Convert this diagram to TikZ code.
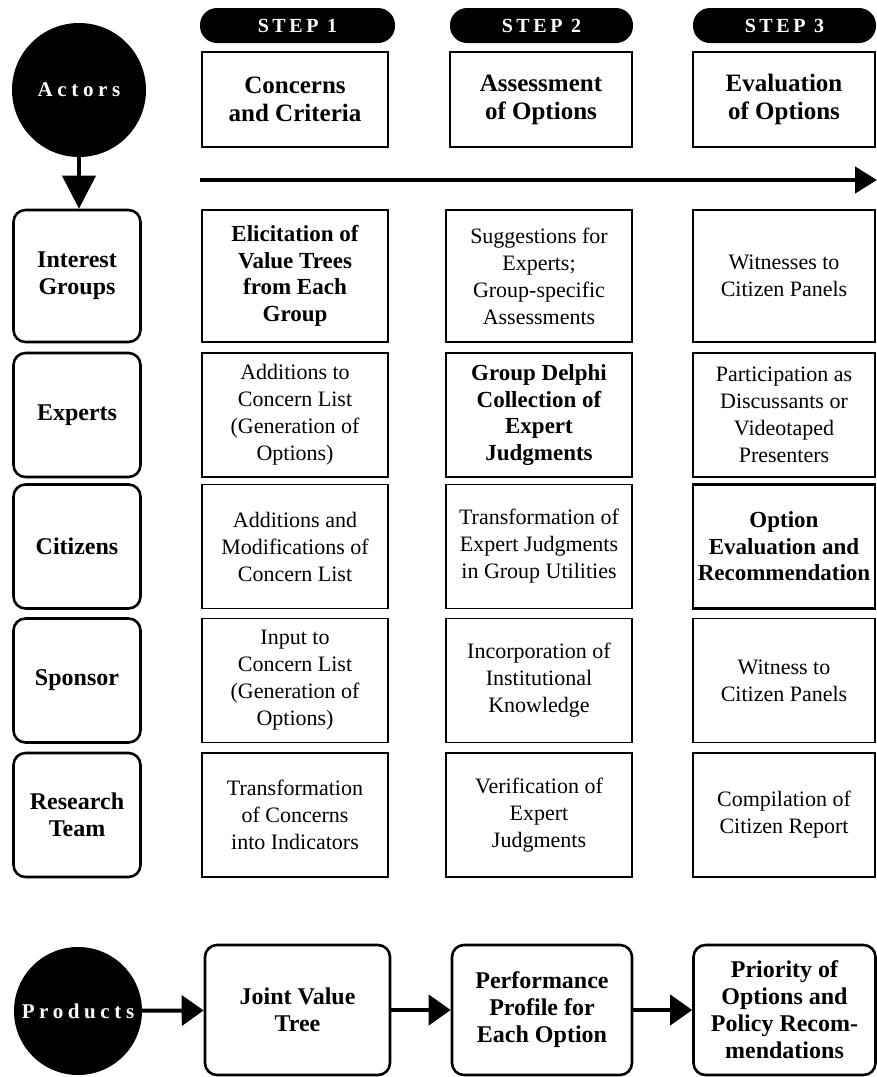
\documentclass[tikz,border=0pt]{standalone}
\usepackage{fontspec}
\setmainfont{Liberation Serif}
\newfontfamily\spacedfont[LetterSpace=22]{Liberation Serif}
\newfontfamily\stepfont[LetterSpace=18]{Liberation Serif}
\usetikzlibrary{arrows.meta}

\begin{document}
\begin{tikzpicture}[x=1pt, y=-1pt,
    cell/.style={draw, line width=1.3pt, align=center, inner sep=0pt,
        minimum width=186pt, minimum height=124pt,
        font=\fontsize{22}{27}\selectfont},
    keycell/.style={cell, line width=2.6pt,
        font=\fontsize{23}{26.5}\selectfont\bfseries},
    head/.style={cell, line width=2pt, minimum height=95pt,
        font=\fontsize{25}{28}\selectfont\bfseries},
    pill/.style={fill=black, text=white, rounded corners=17pt,
        minimum height=35pt, inner sep=0pt,
        font=\fontsize{20}{22}\selectfont\stepfont\bfseries},
    actor/.style={draw, line width=2.6pt, rounded corners=12pt, align=center,
        minimum width=127pt, minimum height=124pt, inner sep=0pt,
        font=\fontsize{24}{27}\selectfont\bfseries},
    product/.style={actor, minimum height=130pt},
    bigdot/.style={circle, fill=black, text=white, minimum size=134pt,
        inner sep=0pt, font=\fontsize{21}{22}\selectfont\spacedfont\bfseries},
    bigarrow/.style={line width=4pt, -{Triangle[length=22pt,width=30pt]}}]

    % page size
    \useasboundingbox (0,0) rectangle (877,1077);

    % the three step labels
    \node[pill, minimum width=195pt] (step1) at (297.5,25.5) {STEP 1};
    \node[pill, minimum width=183pt] (step2) at (541.5,25.5) {STEP 2};
    \node[pill, minimum width=183pt] (step3) at (784.5,25.5) {STEP 3};

    % the headers below the steps
    \node[head] (head1) at (295,99.5) {Concerns\\and Criteria};
    \node[head, minimum width=182pt] (head2) at (541,99.5) {Assessment\\of Options};
    \node[head, minimum width=182pt] (head3) at (784,99.5) {Evaluation\\of Options};

    % the time line under the headers
    \coordinate (tstart) at (200,180);
    \coordinate (tend) at (877,180);
    \draw[line width=4.5pt, -{Triangle[length=22pt,width=26pt]}] (tstart) -- (tend);

    % Actors and the actor column
    \node[bigdot] (actors) at (79,90) {Actors};
    \node[actor, minimum height=132pt] (igroups) at (77,276) {Interest\\Groups};
    \node[actor] (experts) at (77,415) {Experts};
    \node[actor] (citizens) at (77,546.5) {Citizens};
    \node[actor] (sponsor) at (77,680.5) {Sponsor};
    \node[actor] (rteam) at (77,815) {Research\\Team};
    \draw[line width=4pt, -{Triangle[length=33pt,width=33pt]}]
        (actors.south) -- (actors.south |- igroups.north);

    % column of step 1
    \node[keycell, minimum height=132pt] (ig1) at (295,276)
        {Elicitation of\\Value Trees\\from Each\\Group};
    \node[cell] (ex1) at (295,415)
        {Additions to\\Concern List\\(Generation of\\Options)};
    \node[cell] (ci1) at (295,546.5)
        {Additions and\\Modifications of\\Concern List};
    \node[cell] (sp1) at (295,680.5)
        {Input to\\Concern List\\(Generation of\\Options)};
    \node[cell] (rt1) at (295,815)
        {Transformation\\of Concerns\\into Indicators};

    % column of step 2
    \node[cell, minimum height=132pt] (ig2) at (539,276)
        {Suggestions for\\Experts;\\Group-specific\\Assessments};
    \node[keycell] (ex2) at (539,415)
        {Group Delphi\\Collection of\\Expert\\Judgments};
    \node[cell] (ci2) at (539,546.5)
        {Transformation of\\Expert Judgments\\in Group Utilities};
    \node[cell] (sp2) at (539,680.5)
        {Incorporation of\\Institutional\\Knowledge};
    \node[cell] (rt2) at (539,815)
        {Verification of\\Expert\\Judgments};

    % column of step 3
    \node[cell, minimum width=182pt, minimum height=132pt] (ig3) at (784,276)
        {Witnesses to\\Citizen Panels};
    \node[cell, minimum width=182pt] (ex3) at (784,415)
        {Participation as\\Discussants or\\Videotaped\\Presenters};
    \node[keycell, minimum width=182pt] (ci3) at (784,546.5)
        {Option\\Evaluation and\\Recommendation};
    \node[cell, minimum width=182pt] (sp3) at (784,680.5)
        {Witness to\\Citizen Panels};
    \node[cell, minimum width=182pt] (rt3) at (784,815)
        {Compilation of\\Citizen Report};

    % Products and its chain
    \node[bigdot, minimum size=128pt] (products) at (78,1011) {Products};
    \node[product, minimum width=185pt] (jtree) at (297.5,1010)
        {Joint Value\\Tree};
    \node[product, minimum width=180pt] (profile) at (542,1010)
        {Performance\\Profile for\\Each Option};
    \node[product, minimum width=182pt] (priority) at (784.5,1010)
        {Priority of\\Options and\\Policy Recom-\\mendations};
    \draw[bigarrow] (products) -- (jtree);
    \draw[bigarrow] (jtree) -- (profile);
    \draw[bigarrow] (profile) -- (priority);
\end{tikzpicture}
\end{document}
